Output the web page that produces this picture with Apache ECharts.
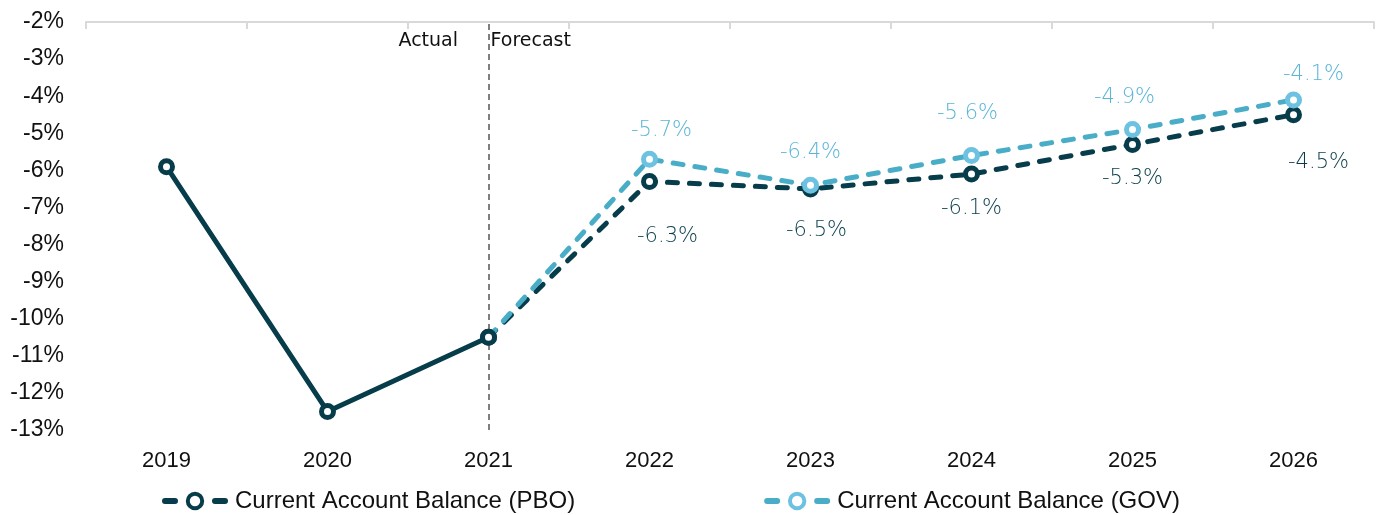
<!DOCTYPE html>
<html><head><meta charset="utf-8">
<script src="https://cdn.jsdelivr.net/npm/echarts@6/dist/echarts.min.js"></script>
<style>html,body{margin:0;padding:0;background:#fff}#c{width:1382px;height:515px}</style>
</head><body><div id="c"></div>
<script>
const categories = ['2019','2020','2021','2022','2023','2024','2025','2026'];
const pboValues = [-5.9, -12.5, -10.5, -6.3, -6.5, -6.1, -5.3, -4.5];
const govValues = [null, null, -10.5, -5.7, -6.4, -5.6, -4.9, -4.1];
const forecastStart = '2021';
const yTicks = [-13, -2, 1]; // min, max, step

const splitIdx = categories.indexOf(forecastStart);
const pboActual = pboValues.map((v, i) => i <= splitIdx ? v : null);
const pboForecast = pboValues.map((v, i) => i >= splitIdx ? v : null);

const DARK = '#073d4a', LIGHT = '#4aadc8', LIGHTM = '#6cc2e0';
const pboOff = {3:[18,55],4:[6,42],5:[0,34],6:[0,34],7:[25,48]};
const govOff = {3:[12,-29],4:[0,-33],5:[-4,-42],6:[-8,-32],7:[20,-25]};
const labelFont = {fontFamily:'DejaVu Sans', fontWeight:200, fontSize:21};

function mk(vals, offs, color, showLbl, hideIdx) {
  return vals.map((v, i) => {
    const o = {value: v};
    if (showLbl && offs[i]) o.label = {show:true, position:'inside', offset:offs[i], color, ...labelFont,
      formatter: p => p.value + '%'};
    if (hideIdx !== undefined && i === hideIdx) o.symbol = 'none';
    return o;
  });
}

const chart = echarts.init(document.getElementById('c'));
const symbolStyle = (c) => ({color:'#fff', borderColor:c, borderWidth:5});
const DASH = [10, 12];
chart.setOption({
  animation:false,
  grid:{left:86, right:8, top:22, bottom:85},
  legend:{
    data:['Current Account Balance (PBO)','Current Account Balance (GOV)'],
    left:157, top:484, itemGap:189, itemWidth:60, itemHeight:18,
    lineStyle:{type:[10,40], width:6, cap:'round'},
    itemStyle:{borderWidth:4},
    textStyle:{fontFamily:'Liberation Sans', fontSize:24, color:'#111', padding:[0,0,0,5]}
  },
  xAxis:[{
    type:'category', data:categories, position:'bottom',
    axisLine:{show:false}, axisTick:{show:false},
    axisLabel:{fontFamily:'Liberation Sans', fontSize:22, color:'#111', margin:20}
  },{
    type:'category', data:categories, position:'top',
    axisLine:{show:true, lineStyle:{color:'#d9d9d9', width:2}},
    axisTick:{show:true, inside:true, length:7, lineStyle:{color:'#d9d9d9', width:2}},
    axisLabel:{show:false}
  }],
  yAxis:{
    type:'value', min:yTicks[0], max:yTicks[1], interval:yTicks[2],
    axisLine:{show:false}, axisTick:{show:false}, splitLine:{show:false},
    axisLabel:{formatter:v => v + '%', fontFamily:'Liberation Sans', fontSize:23, color:'#111', margin:22}
  },
  series:[
    {name:'Current Account Balance (PBO)', type:'line', data:mk(pboForecast, pboOff, DARK, true),
     lineStyle:{color:DARK, width:5, type:DASH, cap:'round'}, itemStyle:symbolStyle(DARK),
     symbol:'circle', symbolSize:12, z:3,
     markLine:{silent:true, symbol:'none', label:{show:false},
       lineStyle:{color:'#555', type:[6,4], width:1.5},
       data:[{xAxis:forecastStart}]}},
    {name:'PBO actual', type:'line', data:pboActual,
     lineStyle:{color:DARK, width:5, cap:'round'}, itemStyle:symbolStyle(DARK),
     symbol:'circle', symbolSize:12, z:6},
    {name:'Current Account Balance (GOV)', type:'line', data:mk(govValues, govOff, '#5ab5d6', true, splitIdx),
     lineStyle:{color:LIGHT, width:5, type:DASH, cap:'round'}, itemStyle:symbolStyle(LIGHTM),
     symbol:'circle', symbolSize:12, z:5}
  ]
});
const px = chart.convertToPixel({xAxisIndex:0}, forecastStart);
chart.setOption({graphic:[
  {type:'text', left:px-90, top:32, style:{text:'Actual', font:'19px "DejaVu Sans"', fill:'#111'}},
  {type:'text', left:px+2, top:32, style:{text:'Forecast', font:'19px "DejaVu Sans"', fill:'#111'}}
]});
</script></body></html>
